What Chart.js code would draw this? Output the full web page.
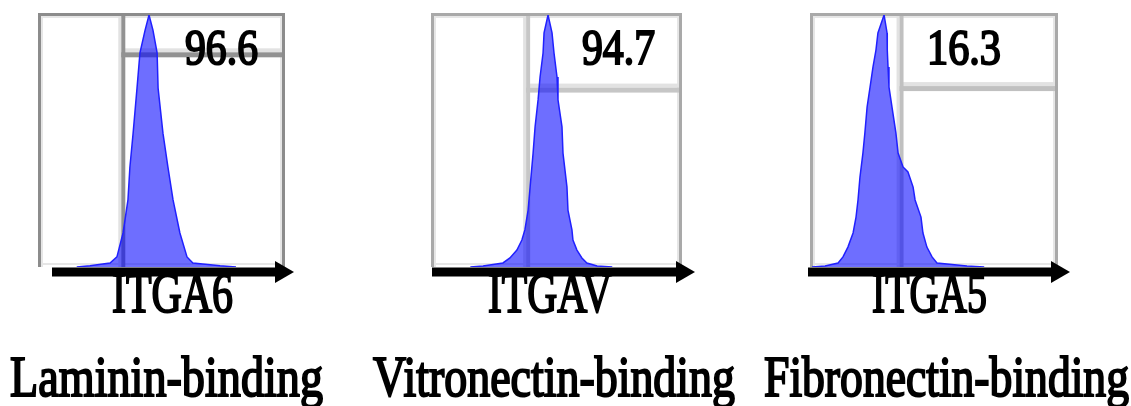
<!DOCTYPE html>
<html>
<head>
<meta charset="utf-8">
<title>Integrin expression histograms</title>
<script src="https://cdn.jsdelivr.net/npm/chart.js@4/dist/chart.umd.min.js"></script>
<style>
  html, body { margin: 0; padding: 0; background: #ffffff; }
  #stage { position: relative; width: 1131px; height: 406px; overflow: hidden; }
  #stage canvas { position: absolute; left: 0; top: 0; }
</style>
</head>
<body>
<div id="stage">
  <canvas id="c0" width="1131" height="406"></canvas>
  <canvas id="c1" width="1131" height="406"></canvas>
  <canvas id="c2" width="1131" height="406"></canvas>
</div>
<script>
// ---- data ----
const markers = ['ITGA6', 'ITGAV', 'ITGA5'];
const ligands = ['Laminin-binding', 'Vitronectin-binding', 'Fibronectin-binding'];
const positivePercent = [96.6, 94.7, 16.3];
// gate: fluorescence channel of the positive cut-off, and height of the label bar (% of mode)
const gateChannel = [340, 382, 364];
const gateLevel = [84.4, 70.4, 71];

// histograms: fluorescence channel (0-1000) vs. count (% of mode)
const itga6Channel = [150, 204, 286, 314, 339, 359, 367, 380, 396, 408, 429, 445, 461, 478, 482, 502, 522, 543, 571, 600, 624, 735, 800];
const itga6Count   = [0, 0.5, 1.6, 4, 13.5, 26.6, 39.7, 53, 71, 85, 94, 100, 94, 85, 71, 53, 39.7, 26.6, 13.5, 4, 1.6, 0.5, 0];

const itgavChannel = [150, 201, 281, 309, 337, 357, 369, 382, 390, 402, 410, 422, 430, 442, 446, 462, 478, 486, 498, 502, 518, 522, 538, 542, 558, 562, 578, 598, 618, 659, 720];
const itgavCount   = [0, 0.4, 1.6, 3.6, 6.7, 10.7, 14.7, 22.6, 31.7, 45.2, 55.6, 66.3, 75.4, 84.9, 92.9, 100, 92.9, 84.9, 75.4, 66.3, 55.6, 45.2, 31.7, 22.6, 14.7, 10.7, 6.7, 3.6, 1.6, 0.4, 0];

const itga5Channel = [0, 53, 106, 126, 146, 167, 179, 187, 195, 207, 215, 224, 236, 248, 260, 268, 293, 305, 306, 309, 313, 325, 341, 350, 370, 390, 411, 419, 443, 451, 467, 488, 508, 630, 700];
const itga5Count   = [0, 0.4, 1.6, 4, 7.9, 13.5, 19.8, 26.6, 35.7, 45.2, 53.2, 63.5, 71.4, 79.4, 86.1, 92.9, 100, 92.9, 86.1, 79.4, 71.4, 63.5, 53.2, 45.2, 39.7, 37.7, 31.7, 26.6, 19.8, 13.5, 7.9, 4, 1.6, 0.4, 0];

const panelChannels = [itga6Channel, itgavChannel, itga5Channel];
const panelCounts = [itga6Count, itgavCount, itga5Count];

// ---- layout (page pixels) ----
const W = 1131, H = 406;
const plotLeft = [40, 433, 812];
const plotRight = [285, 682, 1058];
const plotTop = 15, plotBottom = 267;
const arrowStart = [52, 432, 808];
const arrowTip = [294, 695, 1070];
const valueCenter = [221.5, 618.5, 964];
const valueWidth = [73, 73, 74];
const markerCenter = [172.5, 550, 929.5];
const markerWidth = [121, 124, 115];
const ligandCenter = [166.5, 554, 946.5];
const ligandWidth = [313, 362, 365];
const frameDark = ['#8c8c8c', '#a9a9a9', '#a9a9a9'];
const gateDark = ['#929292', '#c6c6c6', '#c0c0c0'];

const SERIF = '"Liberation Serif", "Times New Roman", Times, serif';

// draws a label squeezed horizontally to a given width, thickened a little
function fittedText(ctx, text, cx, baseline, width, size) {
  ctx.save();
  ctx.font = size + 'px ' + SERIF;
  ctx.fillStyle = '#000000';
  ctx.strokeStyle = '#000000';
  ctx.lineWidth = 2.1;
  ctx.lineJoin = 'miter';
  ctx.textAlign = 'center';
  ctx.textBaseline = 'alphabetic';
  const m = ctx.measureText(text).width;
  ctx.translate(cx, baseline);
  ctx.scale(width / m, 1);
  ctx.fillText(text, 0, 0);
  ctx.strokeText(text, 0, 0);
  ctx.restore();
}

function makeDecor(i) {
  return {
    id: 'decor' + i,
    beforeDatasetsDraw(chart) {
      const ctx = chart.ctx;
      const a = chart.chartArea;
      const xs = chart.scales.x, ys = chart.scales.y;
      ctx.save();
      // light inner band of the frame
      ctx.fillStyle = '#e6e6e6';
      ctx.fillRect(a.left + 1, a.top + 1, 2, a.bottom - a.top - 1);
      ctx.fillRect(a.right - 5, a.top + 1, 2, a.bottom - a.top - 1);
      ctx.fillRect(a.left + 1, a.top + 1, a.right - a.left - 4, 2);
      ctx.fillRect(a.left + 1, a.bottom - 4, a.right - a.left - 4, 2);
      // frame
      ctx.fillStyle = frameDark[i];
      ctx.fillRect(a.left - 2, a.top - 2, 3, a.bottom - a.top + 2);
      ctx.fillRect(a.right - 3, a.top - 2, 3, a.bottom - a.top + 2);
      ctx.fillRect(a.left - 2, a.top - 2, a.right - a.left + 2, 3);
      // gate
      const gx = xs.getPixelForValue(gateChannel[i]);
      const gy = ys.getPixelForValue(gateLevel[i]);
      ctx.fillStyle = '#e2e2e2';
      ctx.fillRect(gx - 5, a.top + 1, 3, a.bottom - a.top - 1);
      ctx.fillRect(gx, gy - 6, a.right - 3 - gx, 4);
      ctx.fillStyle = gateDark[i];
      ctx.fillRect(gx - 2, a.top + 1, 4, a.bottom - a.top - 1);
      ctx.fillRect(gx - 2, gy - 2, a.right - 1 - gx, 5);
      ctx.restore();
    },
    afterDatasetsDraw(chart) {
      const ctx = chart.ctx;
      const a = chart.chartArea;
      // percentage in the positive gate
      fittedText(ctx, positivePercent[i].toFixed(1), valueCenter[i], 64, valueWidth[i], 50);
      // marker and ligand labels
      fittedText(ctx, markers[i], markerCenter[i], 312, markerWidth[i], 58);
      fittedText(ctx, ligands[i], ligandCenter[i], 396, ligandWidth[i], 58);
      // fluorescence axis arrow
      const ay = a.bottom + 5;
      const headLen = 19, headHalf = 11, shaft = 9;
      ctx.save();
      ctx.fillStyle = '#000000';
      ctx.fillRect(arrowStart[i], ay - shaft / 2, arrowTip[i] - headLen - arrowStart[i] + 1, shaft);
      ctx.beginPath();
      ctx.moveTo(arrowTip[i] - headLen, ay - headHalf);
      ctx.lineTo(arrowTip[i], ay);
      ctx.lineTo(arrowTip[i] - headLen, ay + headHalf);
      ctx.closePath();
      ctx.fill();
      ctx.restore();
    }
  };
}

for (let i = 0; i < 3; i++) {
  const points = panelChannels[i].map((c, k) => ({ x: c, y: panelCounts[i][k] }));
  new Chart(document.getElementById('c' + i), {
    type: 'line',
    data: {
      datasets: [{
        data: points,
        fill: 'origin',
        backgroundColor: 'rgba(0, 0, 255, 0.57)',
        borderColor: '#2020ff',
        borderWidth: 1.5,
        pointRadius: 0,
        tension: 0
      }]
    },
    options: {
      responsive: false,
      animation: false,
      events: [],
      devicePixelRatio: 1,
      layout: {
        autoPadding: false,
        padding: { left: plotLeft[i], right: W - plotRight[i], top: plotTop, bottom: H - plotBottom }
      },
      scales: {
        x: { type: 'linear', min: 0, max: 1000, display: false },
        y: { type: 'linear', min: 0, max: 100, display: false }
      },
      plugins: { legend: { display: false }, tooltip: { enabled: false } }
    },
    plugins: [makeDecor(i)]
  });
}
</script>
</body>
</html>
